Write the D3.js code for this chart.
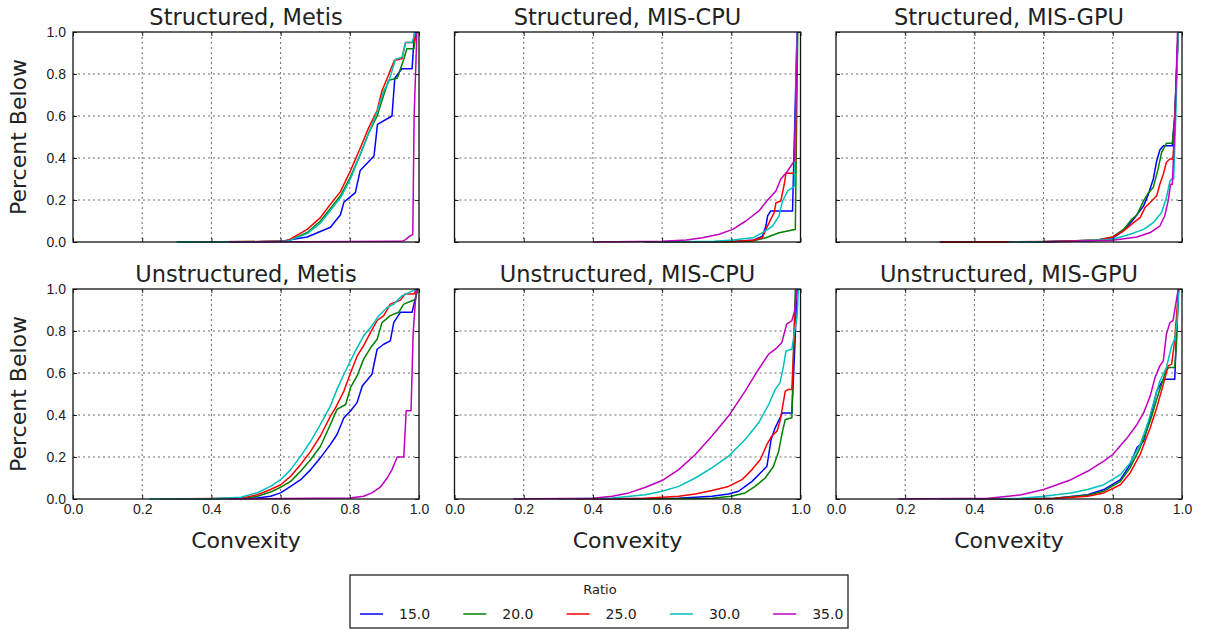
<!DOCTYPE html>
<html>
<head>
<meta charset="utf-8">
<script src="https://cdn.jsdelivr.net/npm/d3@7"></script>
<style>
  body { margin: 0; background: #fff; }
  svg { display: block; font-family: 'DejaVu Sans', sans-serif; }
  .grid line { stroke: #444; stroke-width: 0.8; stroke-dasharray: 2,3; }
  .tick text { fill: #222; font-size: 14px; }
  .tick line { stroke: #222; }
</style>
</head>
<body>
<script>
// legend / series
var ratios = ['15.0', '20.0', '25.0', '30.0', '35.0']
var colors = ['#0000ff', '#008000', '#ff0000', '#00bfbf', '#bf00bf']
var xTicks = [0, 0.2, 0.4, 0.6, 0.8, 1.0]
var yTicks = [0, 0.2, 0.4, 0.6, 0.8, 1.0]
var panelTitles = [
  'Structured, Metis', 'Structured, MIS-CPU', 'Structured, MIS-GPU',
  'Unstructured, Metis', 'Unstructured, MIS-CPU', 'Unstructured, MIS-GPU'
]

// [convexity, fraction below] per ratio
var structMetis = [
  [[0.45, 0], [0.6, 0.003], [0.619, 0.008], [0.677, 0.024], [0.744, 0.07], [0.773, 0.13], [0.783, 0.19], [0.816, 0.235], [0.83, 0.34], [0.87, 0.41], [0.88, 0.56], [0.922, 0.6], [0.93, 0.78], [0.95, 0.825], [0.98, 0.825], [0.987, 1.0]],
  [[0.3, 0], [0.55, 0.002], [0.619, 0.003], [0.677, 0.045], [0.715, 0.1], [0.744, 0.16], [0.773, 0.22], [0.802, 0.31], [0.831, 0.42], [0.855, 0.52], [0.879, 0.6], [0.898, 0.7], [0.912, 0.77], [0.937, 0.78], [0.956, 0.87], [0.965, 0.92], [0.985, 0.92], [0.992, 1.0]],
  [[0.35, 0], [0.55, 0.002], [0.619, 0.005], [0.677, 0.06], [0.715, 0.116], [0.744, 0.18], [0.773, 0.24], [0.802, 0.34], [0.831, 0.45], [0.855, 0.546], [0.879, 0.626], [0.893, 0.72], [0.908, 0.78], [0.929, 0.865], [0.951, 0.873], [0.961, 0.95], [0.985, 0.95], [0.99, 1.0]],
  [[0.3, 0], [0.55, 0.001], [0.619, 0.003], [0.677, 0.04], [0.715, 0.09], [0.744, 0.15], [0.773, 0.21], [0.802, 0.3], [0.831, 0.42], [0.855, 0.52], [0.879, 0.62], [0.898, 0.72], [0.912, 0.76], [0.932, 0.87], [0.951, 0.88], [0.961, 0.95], [0.98, 0.95], [0.989, 1.0]],
  [[0.45, 0], [0.95, 0.003], [0.96, 0.01], [0.975, 0.03], [0.982, 0.035], [0.986, 0.6], [0.994, 1.0]]
]
var structCpu = [
  [[0.55, 0], [0.804, 0.002], [0.862, 0.008], [0.89, 0.028], [0.9, 0.076], [0.905, 0.124], [0.914, 0.148], [0.977, 0.148], [0.99, 1.0]],
  [[0.55, 0], [0.804, 0.001], [0.862, 0.005], [0.9, 0.02], [0.938, 0.044], [0.963, 0.052], [0.977, 0.057], [0.985, 0.06], [0.992, 1.0]],
  [[0.55, 0], [0.804, 0.002], [0.862, 0.008], [0.89, 0.02], [0.9, 0.06], [0.914, 0.108], [0.924, 0.14], [0.929, 0.187], [0.943, 0.195], [0.953, 0.275], [0.958, 0.327], [0.977, 0.327], [0.985, 0.33], [0.99, 1.0]],
  [[0.55, 0], [0.75, 0.003], [0.804, 0.01], [0.862, 0.02], [0.89, 0.044], [0.919, 0.076], [0.938, 0.124], [0.948, 0.195], [0.963, 0.243], [0.977, 0.259], [0.982, 0.265], [0.99, 1.0]],
  [[0.4, 0], [0.6, 0.003], [0.67, 0.01], [0.717, 0.02], [0.765, 0.037], [0.804, 0.06], [0.842, 0.1], [0.88, 0.148], [0.905, 0.2], [0.929, 0.243], [0.943, 0.3], [0.963, 0.338], [0.982, 0.386], [0.987, 0.68], [0.991, 1.0]]
]
var structGpu = [
  [[0.3, 0], [0.6, 0.001], [0.755, 0.008], [0.8, 0.02], [0.831, 0.053], [0.86, 0.108], [0.889, 0.172], [0.903, 0.228], [0.917, 0.3], [0.927, 0.387], [0.936, 0.438], [0.946, 0.458], [0.972, 0.458], [0.979, 0.6], [0.989, 1.0]],
  [[0.3, 0], [0.6, 0.001], [0.755, 0.01], [0.8, 0.024], [0.831, 0.06], [0.855, 0.108], [0.87, 0.13], [0.889, 0.196], [0.903, 0.235], [0.917, 0.26], [0.931, 0.348], [0.941, 0.427], [0.955, 0.47], [0.972, 0.47], [0.979, 0.6], [0.989, 1.0]],
  [[0.3, 0], [0.6, 0.002], [0.755, 0.008], [0.8, 0.024], [0.831, 0.053], [0.86, 0.092], [0.879, 0.116], [0.893, 0.164], [0.908, 0.188], [0.927, 0.22], [0.936, 0.275], [0.946, 0.323], [0.955, 0.38], [0.965, 0.395], [0.974, 0.395], [0.98, 0.6], [0.989, 1.0]],
  [[0.5, 0], [0.7, 0.003], [0.8, 0.013], [0.85, 0.037], [0.889, 0.06], [0.917, 0.092], [0.941, 0.14], [0.955, 0.212], [0.965, 0.29], [0.97, 0.3], [0.976, 0.3], [0.982, 0.6], [0.989, 1.0]],
  [[0.6, 0], [0.8, 0.008], [0.87, 0.024], [0.908, 0.045], [0.936, 0.076], [0.95, 0.124], [0.96, 0.196], [0.967, 0.275], [0.972, 0.275], [0.979, 0.546], [0.987, 1.0]]
]
var unstructMetis = [
  [[0.35, 0], [0.533, 0.005], [0.571, 0.013], [0.6, 0.029], [0.629, 0.06], [0.658, 0.092], [0.687, 0.14], [0.715, 0.196], [0.744, 0.26], [0.763, 0.307], [0.783, 0.387], [0.802, 0.419], [0.821, 0.459], [0.836, 0.538], [0.864, 0.594], [0.879, 0.713], [0.898, 0.737], [0.917, 0.753], [0.927, 0.84], [0.946, 0.889], [0.98, 0.889], [0.99, 0.96], [0.996, 1.0]],
  [[0.3, 0], [0.485, 0.002], [0.533, 0.013], [0.571, 0.033], [0.6, 0.056], [0.629, 0.084], [0.658, 0.132], [0.687, 0.188], [0.715, 0.25], [0.744, 0.355], [0.763, 0.427], [0.788, 0.45], [0.802, 0.53], [0.821, 0.586], [0.84, 0.666], [0.86, 0.72], [0.879, 0.761], [0.893, 0.84], [0.917, 0.873], [0.941, 0.889], [0.956, 0.928], [0.98, 0.944], [0.99, 0.95], [0.996, 1.0]],
  [[0.25, 0], [0.485, 0.003], [0.533, 0.02], [0.571, 0.045], [0.6, 0.068], [0.629, 0.108], [0.658, 0.164], [0.687, 0.228], [0.715, 0.3], [0.744, 0.395], [0.759, 0.435], [0.783, 0.514], [0.802, 0.6], [0.821, 0.68], [0.84, 0.73], [0.86, 0.793], [0.879, 0.85], [0.898, 0.873], [0.917, 0.928], [0.946, 0.947], [0.96, 0.976], [0.985, 0.976], [0.994, 1.0]],
  [[0.22, 0], [0.4, 0.001], [0.485, 0.008], [0.533, 0.03], [0.571, 0.06], [0.6, 0.092], [0.629, 0.14], [0.658, 0.204], [0.687, 0.275], [0.715, 0.355], [0.744, 0.443], [0.763, 0.522], [0.783, 0.594], [0.802, 0.658], [0.821, 0.72], [0.84, 0.777], [0.864, 0.825], [0.884, 0.873], [0.908, 0.912], [0.927, 0.928], [0.951, 0.968], [0.98, 0.99], [0.994, 1.0]],
  [[0.45, 0], [0.8, 0.005], [0.84, 0.013], [0.864, 0.029], [0.888, 0.056], [0.908, 0.1], [0.922, 0.14], [0.937, 0.2], [0.956, 0.2], [0.963, 0.42], [0.977, 0.42], [0.983, 0.785], [0.992, 1.0]]
]
var unstructCpu = [
  [[0.4, 0], [0.648, 0.003], [0.744, 0.013], [0.792, 0.024], [0.821, 0.037], [0.84, 0.06], [0.86, 0.084], [0.884, 0.124], [0.903, 0.156], [0.915, 0.283], [0.927, 0.34], [0.941, 0.387], [0.948, 0.41], [0.975, 0.41], [0.983, 0.7], [0.99, 1.0]],
  [[0.5, 0], [0.744, 0.003], [0.8, 0.013], [0.84, 0.029], [0.869, 0.06], [0.898, 0.1], [0.922, 0.156], [0.937, 0.228], [0.946, 0.307], [0.956, 0.379], [0.975, 0.387], [0.98, 0.705], [0.985, 1.0]],
  [[0.35, 0], [0.552, 0.003], [0.648, 0.013], [0.696, 0.024], [0.744, 0.04], [0.792, 0.06], [0.831, 0.092], [0.86, 0.14], [0.884, 0.188], [0.903, 0.26], [0.917, 0.3], [0.932, 0.323], [0.941, 0.371], [0.956, 0.514], [0.965, 0.522], [0.975, 0.522], [0.98, 0.705], [0.987, 1.0]],
  [[0.3, 0], [0.456, 0.005], [0.552, 0.02], [0.6, 0.037], [0.648, 0.06], [0.696, 0.1], [0.744, 0.148], [0.792, 0.204], [0.84, 0.283], [0.879, 0.363], [0.908, 0.45], [0.927, 0.522], [0.941, 0.554], [0.951, 0.634], [0.958, 0.705], [0.975, 0.713], [0.983, 0.8], [0.99, 0.865], [0.994, 1.0]],
  [[0.17, 0], [0.4, 0.003], [0.456, 0.013], [0.504, 0.029], [0.552, 0.056], [0.6, 0.088], [0.648, 0.14], [0.696, 0.212], [0.744, 0.3], [0.792, 0.395], [0.84, 0.514], [0.879, 0.618], [0.908, 0.69], [0.932, 0.72], [0.946, 0.745], [0.96, 0.833], [0.975, 0.849], [0.983, 0.896], [0.99, 1.0]]
]
var unstructGpu = [
  [[0.4, 0], [0.631, 0.003], [0.727, 0.02], [0.774, 0.045], [0.822, 0.092], [0.85, 0.164], [0.87, 0.245], [0.889, 0.275], [0.908, 0.387], [0.927, 0.514], [0.946, 0.57], [0.979, 0.57], [0.984, 0.785], [0.99, 1.0]],
  [[0.4, 0], [0.631, 0.003], [0.727, 0.018], [0.774, 0.037], [0.822, 0.084], [0.85, 0.148], [0.879, 0.245], [0.908, 0.371], [0.927, 0.475], [0.941, 0.546], [0.955, 0.618], [0.963, 0.626], [0.979, 0.626], [0.984, 0.74], [0.99, 1.0]],
  [[0.4, 0], [0.631, 0.002], [0.727, 0.013], [0.774, 0.029], [0.822, 0.068], [0.85, 0.124], [0.879, 0.212], [0.908, 0.339], [0.927, 0.435], [0.946, 0.546], [0.96, 0.634], [0.97, 0.642], [0.977, 0.729], [0.984, 0.865], [0.99, 1.0]],
  [[0.3, 0], [0.536, 0.003], [0.6, 0.013], [0.679, 0.029], [0.727, 0.045], [0.774, 0.068], [0.822, 0.116], [0.85, 0.172], [0.879, 0.26], [0.903, 0.371], [0.922, 0.482], [0.936, 0.562], [0.955, 0.626], [0.97, 0.729], [0.979, 0.761], [0.986, 0.849], [0.991, 1.0]],
  [[0.18, 0], [0.44, 0.003], [0.536, 0.02], [0.6, 0.045], [0.679, 0.092], [0.727, 0.132], [0.774, 0.18], [0.8, 0.212], [0.841, 0.29], [0.87, 0.355], [0.889, 0.41], [0.908, 0.49], [0.922, 0.578], [0.936, 0.634], [0.946, 0.658], [0.955, 0.785], [0.965, 0.84], [0.974, 0.849], [0.982, 0.928], [0.989, 1.0]]
]
var panelData = [structMetis, structCpu, structGpu, unstructMetis, unstructCpu, unstructGpu]

var width = 1206
var height = 631
var pw = 346
var ph = 210
var colLeft = [73, 454.5, 836]
var rowTop = [32, 289]

var svg = d3.select('body').append('svg')
  .attr('width', width)
  .attr('height', height)

var x = d3.scaleLinear().domain([0, 1]).range([0, pw])
var y = d3.scaleLinear().domain([0, 1]).range([ph, 0])
var fmt = d3.format('.1f')

var line = d3.line()
  .x(function (d) { return x(d[0]) })
  .y(function (d) { return y(d[1]) })

svg.append('defs').append('clipPath')
  .attr('id', 'plotClip')
  .append('rect')
  .attr('x', -1)
  .attr('y', -1)
  .attr('width', pw + 2)
  .attr('height', ph + 2)

panelData.forEach(function (series, i) {
  var col = i % 3
  var row = Math.floor(i / 3)
  var g = svg.append('g')
    .attr('transform', 'translate(' + colLeft[col] + ',' + rowTop[row] + ')')

  // dotted grid
  var grid = g.append('g').attr('class', 'grid')
  grid.selectAll('.gx')
    .data(xTicks.slice(1, -1))
    .enter().append('line')
    .attr('x1', function (d) { return x(d) })
    .attr('x2', function (d) { return x(d) })
    .attr('y1', 0)
    .attr('y2', ph)
  grid.selectAll('.gy')
    .data(yTicks.slice(1, -1))
    .enter().append('line')
    .attr('y1', function (d) { return y(d) })
    .attr('y2', function (d) { return y(d) })
    .attr('x1', 0)
    .attr('x2', pw)

  // curves
  g.append('g')
    .attr('clip-path', 'url(#plotClip)')
    .selectAll('path')
    .data(series)
    .enter().append('path')
    .attr('d', line)
    .attr('fill', 'none')
    .attr('stroke', function (d, k) { return colors[k] })
    .attr('stroke-width', 1.5)
    .attr('stroke-linejoin', 'round')

  // inward ticks on all four sides, matplotlib classic look
  var bottom = d3.axisBottom(x).tickValues(xTicks).tickSize(-4).tickPadding(5)
    .tickFormat(row === 1 ? fmt : '')
  var left = d3.axisLeft(y).tickValues(yTicks).tickSize(-4).tickPadding(7)
    .tickFormat(col === 0 ? fmt : '')
  var top = d3.axisTop(x).tickValues(xTicks).tickSize(-4).tickFormat('')
  var right = d3.axisRight(y).tickValues(yTicks).tickSize(-4).tickFormat('')

  g.append('g').attr('transform', 'translate(0,' + ph + ')').call(bottom)
  g.append('g').call(left)
  g.append('g').call(top)
  g.append('g').attr('transform', 'translate(' + pw + ',0)').call(right)
  g.selectAll('.domain').remove()
  g.selectAll('.tick text').attr('font-family', null).attr('font-size', null)

  g.append('rect')
    .attr('width', pw)
    .attr('height', ph)
    .attr('fill', 'none')
    .attr('stroke', '#111')
    .attr('stroke-width', 1.3)

  g.append('text')
    .attr('x', pw / 2)
    .attr('y', -7)
    .attr('text-anchor', 'middle')
    .style('font-size', '22.5px')
    .style('fill', '#222')
    .text(panelTitles[i])

  if (row === 1) {
    g.append('text')
      .attr('x', pw / 2)
      .attr('y', ph + 49)
      .attr('text-anchor', 'middle')
      .style('font-size', '22px')
      .style('fill', '#222')
      .text('Convexity')
  }
  if (col === 0) {
    g.append('text')
      .attr('transform', 'translate(' + (-47) + ',' + (ph / 2) + ') rotate(-90)')
      .attr('text-anchor', 'middle')
      .style('font-size', '22px')
      .style('fill', '#222')
      .text('Percent Below')
  }
})

// legend
var legend = svg.append('g').attr('transform', 'translate(350,575)')
legend.append('rect')
  .attr('width', 498)
  .attr('height', 53)
  .attr('fill', '#fff')
  .attr('stroke', '#222')
  .attr('stroke-width', 1.3)
legend.append('text')
  .attr('x', 250)
  .attr('y', 19)
  .attr('text-anchor', 'middle')
  .style('font-size', '13px')
  .style('fill', '#222')
  .text('Ratio')

var item = legend.selectAll('.item')
  .data(ratios)
  .enter().append('g')
  .attr('transform', function (d, k) { return 'translate(' + (10 + k * 103.3) + ',39)' })
item.append('line')
  .attr('x1', 0)
  .attr('x2', 23)
  .attr('stroke', function (d, k) { return colors[k] })
  .attr('stroke-width', 1.5)
item.append('text')
  .attr('x', 39)
  .attr('dy', '0.35em')
  .style('font-size', '14px')
  .style('fill', '#222')
  .text(function (d) { return d })
</script>
</body>
</html>
